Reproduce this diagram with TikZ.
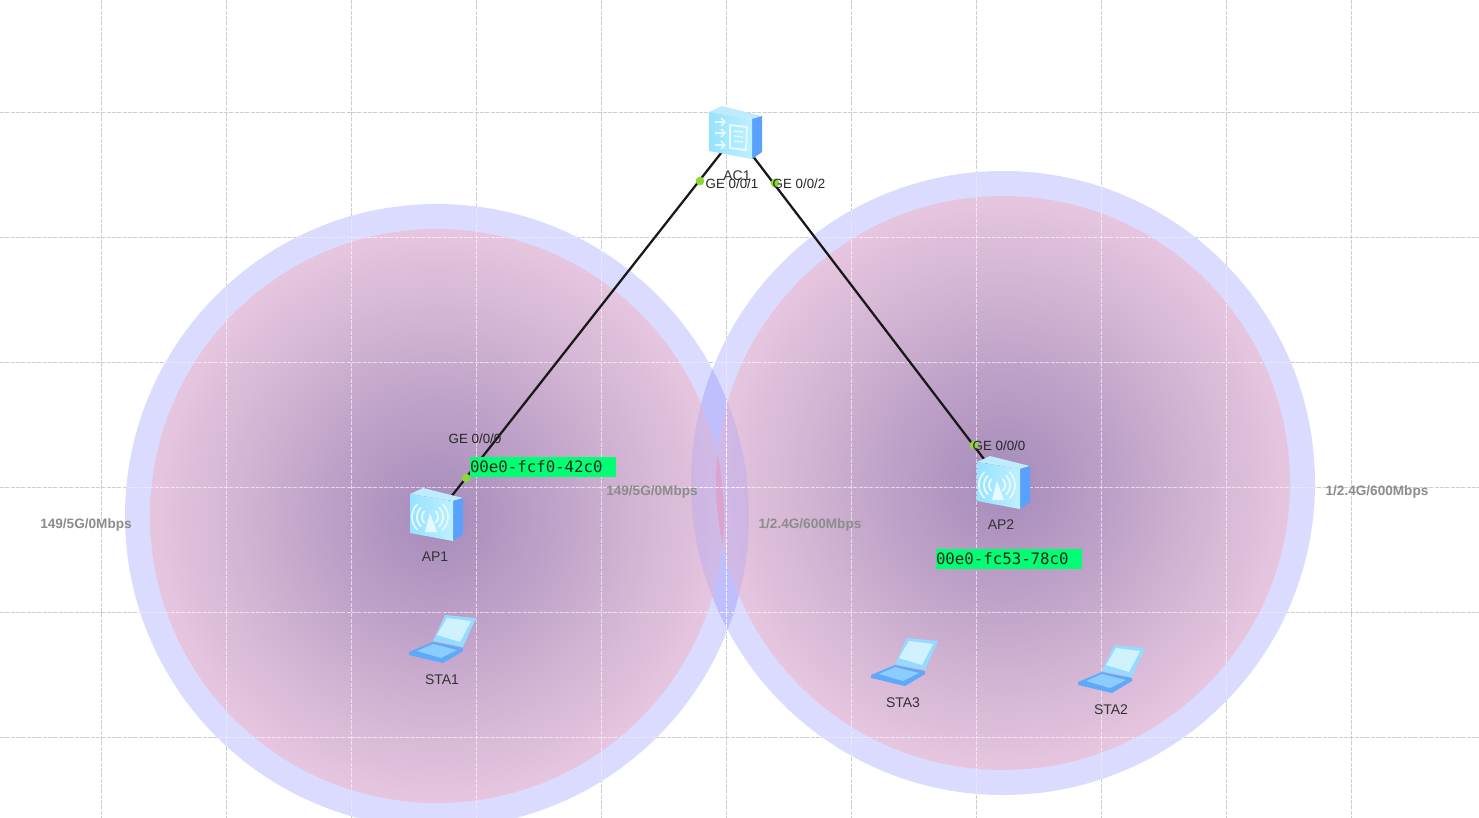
\documentclass[tikz,border=0pt]{standalone}
\usepackage{fontspec}
\setmainfont{Liberation Sans}
\newfontfamily\macfont{DejaVu Sans Mono}
\usetikzlibrary{calc}
\definecolor{ringc}{RGB}{196,196,255}
\definecolor{coreout}{RGB}{231,198,222}
\definecolor{corein}{RGB}{164,136,184}
\definecolor{gridc}{RGB}{205,205,205}
\definecolor{macbg}{RGB}{0,255,115}
\definecolor{portc}{RGB}{140,215,50}
\definecolor{faceA}{RGB}{150,226,255}
\definecolor{faceC}{RGB}{190,240,255}
\definecolor{faceB}{RGB}{228,250,255}
\definecolor{sideC}{RGB}{90,160,255}
\definecolor{topC}{RGB}{190,236,252}
\definecolor{lapA}{RGB}{150,218,255}
\definecolor{lapB}{RGB}{92,170,248}
\definecolor{lapK}{RGB}{140,205,255}
\definecolor{lapS}{RGB}{208,242,255}
\definecolor{mixblue}{RGB}{165,160,250}
\definecolor{mixpink}{RGB}{225,150,190}
\tikzset{
 x=0.75pt,y=-0.75pt,
 gridln/.style={draw=gridc,line width=0.6pt,dash pattern=on 3pt off 1pt},
 gridwh/.style={draw=white,line width=0.6pt,opacity=0.6,dash pattern=on 3pt off 1pt},
 ringfill/.style={fill=ringc,fill opacity=0.6,draw=none},
 linkln/.style={draw=black!90,line width=1.7pt},
 portdot/.style={circle,fill=portc,draw=none,minimum size=6.5pt,inner sep=0pt},
 lbl/.style={font=\fontsize{10.5}{12}\selectfont,text=black!80,inner sep=0pt},
 portlbl/.style={font=\fontsize{10}{12}\selectfont,text=black!85,inner sep=0pt},
 ratelbl/.style={font=\bfseries\fontsize{10.2}{12}\selectfont,text=black!45,inner sep=0pt},
 maclbl/.style={font=\macfont\fontsize{11.8}{12}\selectfont,fill=macbg,text=black!85,inner sep=0pt,
   text width=109.5pt,align=left,minimum height=15.7pt},
 devnode/.style={inner sep=0pt,minimum size=30pt},
}
\newcommand{\boxicon}[2]{% center x,y
 \begin{scope}[shift={(#1,#2)}]
  \fill[topC] (-26,-22) -- (-13,-28) -- (27,-18) -- (17,-15) -- cycle;
  \fill[sideC] (17,-15) -- (27,-18) -- (27,18) -- (17,25) -- cycle;
  \shade[left color=faceA,right color=faceC] (-26,-22) -- (17,-15) -- (17,25) -- (-26,17) -- cycle;
 \end{scope}}
\newcommand{\wifiglyph}[2]{%
 \begin{scope}[shift={(#1,#2)}]
  \fill[faceB] (-6,-3) -- (-11,16) -- (1,16) -- cycle;
  \foreach \rad/\ww in {8/1.5,13/1.4,18/1.3}{
   \draw[faceB,line width=\ww pt,line cap=round] plot[domain=-45:45,samples=11] ({-6+\rad*cos(\x)},{1+\rad*sin(\x)});
   \draw[faceB,line width=\ww pt,line cap=round] plot[domain=135:225,samples=11] ({-6+\rad*cos(\x)},{1+\rad*sin(\x)});
  }
 \end{scope}}
\newcommand{\laptop}[2]{%
 \begin{scope}[shift={(#1,#2)}]
  \fill[lapA] (-10,3) -- (2,-23) -- (33,-20) -- (20,9) -- cycle;
  \fill[lapS] (-6,-3) -- (4,-20) -- (28,-17) -- (17,4) -- cycle;
  \fill[lapB] (-34,14) -- (-10,4) -- (20,10) -- (20,13) -- (0,25) -- (-34,17) -- cycle;
  \fill[lapK] (-26,13) -- (-10,6) -- (14,12) -- (-2,20) -- cycle;
 \end{scope}}
\begin{document}
\begin{tikzpicture}
\useasboundingbox (0,0) rectangle (1479,818);
\fill[white] (0,0) rectangle (1479,818);
% grid
\foreach \gx in {101,226,351,476,601,726,851,976,1101,1226,1351}{
 \draw[gridln] (\gx,0) -- (\gx,818);
}
\foreach \gy in {112,237,362,487,612,737}{
 \draw[gridln] (0,\gy) -- (1479,\gy);
}
% coverage discs
\begin{scope}
 \clip (0,0) rectangle (1479,818);
 \fill[ringfill] (437,516) circle (312);
 \fill[ringfill] (1003,483) circle (312);
 \shade[inner color=corein,outer color=coreout,opacity=0.97] (437,516) circle (287);
 \shade[inner color=corein,outer color=coreout,opacity=0.97] (1003,483) circle (287);
 % overlaps of the two coverage areas
 \begin{scope}
  \clip (437,516) circle (312);
  \fill[mixblue,fill opacity=0.3] (1003,483) circle (312);
 \end{scope}
 \begin{scope}
  \clip (437,516) circle (287);
  \fill[mixpink,fill opacity=0.6] (1003,483) circle (287);
 \end{scope}
\end{scope}
% grid seen inside the discs
\begin{scope}
 \clip (437,516) circle (312);
 \foreach \gx in {226,351,476,601,726}{\draw[gridwh] (\gx,0) -- (\gx,818);}
 \foreach \gy in {237,362,487,612,737}{\draw[gridwh] (0,\gy) -- (1479,\gy);}
\end{scope}
\begin{scope}
 \clip (1003,483) circle (312);
 \foreach \gx in {726,851,976,1101,1226}{\draw[gridwh] (\gx,0) -- (\gx,818);}
 \foreach \gy in {237,362,487,612,737}{\draw[gridwh] (0,\gy) -- (1479,\gy);}
\end{scope}
% device anchors
\node[devnode] (AC1) at (736,134) {};
\node[devnode] (AP1) at (436,516) {};
\node[devnode] (AP2) at (1003,484) {};
% links
\draw[linkln] (AC1.center) -- (AP1.center);
\draw[linkln] (AC1.center) -- (AP2.center);
% icons
\boxicon{735}{134}
\boxicon{436}{516}
\boxicon{1003}{484}
\wifiglyph{436}{516}
\wifiglyph{1003}{484}
% switch glyph of AC1
\begin{scope}[shift={(736,134)}]
 \draw[faceB,line width=1.5pt] (-6,-9) -- (11,-7) -- (10,16) -- (-6,14) -- cycle;
 \foreach \yy in {-3,2,7}{\draw[faceB,line width=1.1pt] (-2,\yy) -- (7,\yy+1);}
 \foreach \yy in {-12,-1,11}{\draw[faceB,line width=1.7pt] (-21,\yy) -- (-11,\yy);
   \draw[faceB,line width=1.3pt] (-15,\yy-4) -- (-11,\yy) -- (-15,\yy+4);}
\end{scope}
\laptop{443}{638}
\laptop{905}{661}
\laptop{1112}{668}
% ports
\node[portdot] (p1) at (700,181) {};
\node[portdot] (p2) at (775,183) {};
\node[portdot] (p3) at (466,478) {};
\node[portdot] (p4) at (974,445) {};
% labels
\node[lbl] (tAC) at (737,176) {AC1};
\node[lbl] (tAP1) at (435,557) {AP1};
\node[lbl] (tAP2) at (1001,525) {AP2};
\node[lbl] (tS1) at (442,680) {STA1};
\node[lbl] (tS3) at (903,703) {STA3};
\node[lbl] (tS2) at (1111,710) {STA2};
\node[portlbl] (l1) at (732,184) {GE 0/0/1};
\node[portlbl] (l2) at (799,184) {GE 0/0/2};
\node[portlbl] (l3) at (475,439) {GE 0/0/0};
\node[portlbl] (l4) at (999,446) {GE 0/0/0};
\node[maclbl] (m1) at (543,467) {00e0-fcf0-42c0};
\node[maclbl] (m2) at (1009,559) {00e0-fc53-78c0};
\node[ratelbl] (r1) at (86,525) {149/5G/0Mbps};
\node[ratelbl] (r2) at (652,492) {149/5G/0Mbps};
\node[ratelbl] (r3) at (810,525) {1/2.4G/600Mbps};
\node[ratelbl] (r4) at (1377,492) {1/2.4G/600Mbps};
\end{tikzpicture}
\end{document}
